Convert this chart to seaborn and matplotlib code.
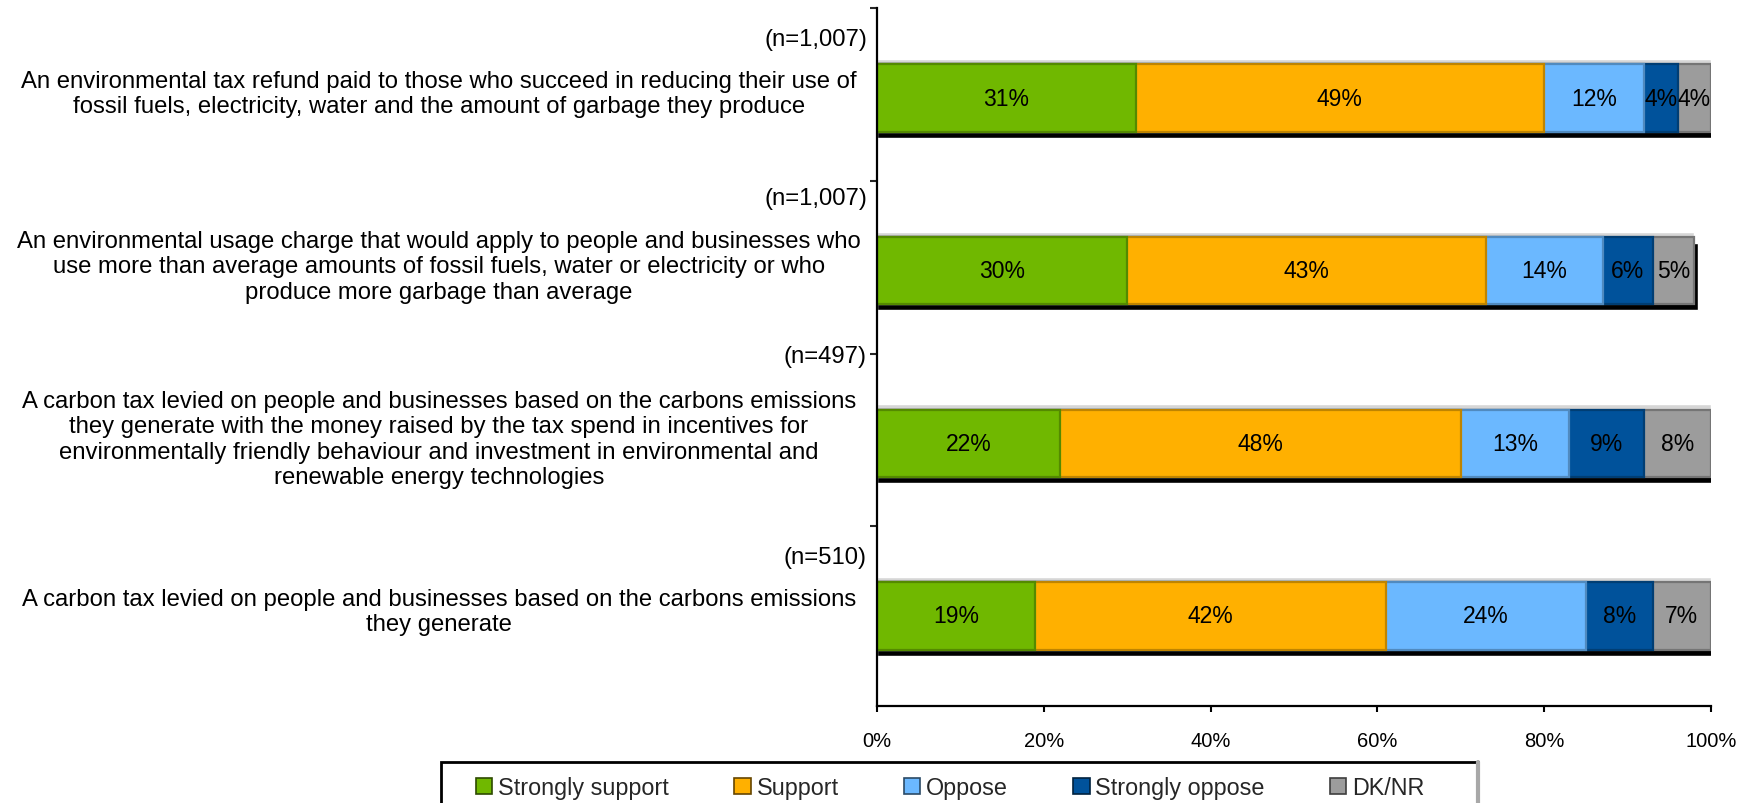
import numpy as np
import matplotlib
matplotlib.use("Agg")
import matplotlib.pyplot as plt
import matplotlib.colors as mcolors
import matplotlib.transforms as mtransforms
from matplotlib.patches import Patch, Rectangle
from matplotlib.lines import Line2D
import seaborn as sns

# --- data ---
questions = [
    "An environmental tax refund paid to those who succeed in reducing their use of\n"
    "fossil fuels, electricity, water and the amount of garbage they produce",
    "An environmental usage charge that would apply to people and businesses who\n"
    "use more than average amounts of fossil fuels, water or electricity or who\n"
    "produce more garbage than average",
    "A carbon tax levied on people and businesses based on the carbons emissions\n"
    "they generate with the money raised by the tax spend in incentives for\n"
    "environmentally friendly behaviour and investment in environmental and\n"
    "renewable energy technologies",
    "A carbon tax levied on people and businesses based on the carbons emissions\n"
    "they generate",
]
sample_sizes = ["(n=1,007)", "(n=1,007)", "(n=497)", "(n=510)"]
responses = ["Strongly support", "Support", "Oppose", "Strongly oppose", "DK/NR"]
strongly_support = [31, 30, 22, 19]
support = [49, 43, 48, 42]
oppose = [12, 14, 13, 24]
strongly_oppose = [4, 6, 9, 8]
dk_nr = [4, 5, 8, 7]
xticks = [0, 20, 40, 60, 80, 100]

colors = ["#70b800", "#ffb000", "#6bb8ff", "#00529b", "#9c9c9c"]

sns.set_theme(style="white")
plt.rcParams["font.family"] = ["Liberation Sans", "DejaVu Sans"]

values = np.array([strongly_support, support, oppose, strongly_oppose, dk_nr]).T
cum = np.cumsum(values, axis=1)
totals = cum[:, -1]
keys = [f"Q{i}" for i in range(len(questions))]
ypos = np.arange(len(questions))
bar_h = 0.39


def darker(c, f=0.7):
    r, g, b = mcolors.to_rgb(c)
    return (r * f, g * f, b * f)


fig = plt.figure(figsize=(17.55, 8.04), dpi=100)
ax = fig.add_axes([0.4997, 0.1206, 0.4752, 0.8682])

# stacked bars: draw cumulative layers, biggest first
for k in reversed(range(len(responses))):
    sns.barplot(x=cum[:, k], y=keys, orient="h", color=colors[k], saturation=1,
                width=bar_h, edgecolor=darker(colors[k], 0.75), linewidth=1.6,
                ax=ax, zorder=2)

# excel-ish shadow behind bars
ax.barh(ypos - 0.03, totals, height=bar_h, color="#d6d6d6", zorder=0.5)
ax.barh(ypos + 0.035, totals + 0.5, height=bar_h, color="black", zorder=0.6)

# segment labels
for i in range(len(questions)):
    for k in range(len(responses)):
        v = values[i, k]
        ax.text(cum[i, k] - v / 2, ypos[i], f"{v}%", ha="center", va="center",
                fontsize=16.5, color="black", zorder=3)

ax.set_xlim(0, 100)
ax.set_ylim(3.522, -0.522)
ax.set_xticks(xticks)
ax.set_xticklabels([f"{t}%" for t in xticks], fontsize=14.5)
ax.set_yticks([-0.522, 0.48, 1.48, 2.48])
ax.set_yticklabels([])
ax.set_xlabel("")
ax.set_ylabel("")
ax.tick_params(axis="x", direction="out", length=4, width=1.5, pad=14,
               bottom=True, colors="black")
ax.tick_params(axis="y", direction="out", length=5, width=1.5, left=True)
for side in ["top", "right"]:
    ax.spines[side].set_visible(False)
for side in ["left", "bottom"]:
    ax.spines[side].set_color("black")
    ax.spines[side].set_linewidth(1.6)

# question labels on the left
trans = mtransforms.blended_transform_factory(fig.transFigure, ax.transData)
for i, (q, n) in enumerate(zip(questions, sample_sizes)):
    nlines = q.count("\n") + 1
    ax.text(0.250, ypos[i] - 0.025, q, transform=trans, ha="center", va="center",
            fontsize=17.2, linespacing=1.2, color="black")
    off_px = 31 + 14 * nlines
    ax.annotate(n, xy=(0.494, ypos[i]), xycoords=trans,
                xytext=(0, off_px * 72 / 100), textcoords="offset points",
                ha="right", va="center", fontsize=17.2, color="black")

# legend (frame drawn separately so the padding matches the original)
handles = [Patch(facecolor=c, edgecolor=darker(c, 0.4), linewidth=1.2) for c in colors]
fig.legend(handles, responses, loc="upper left",
           bbox_to_anchor=(476 / 1755, 1 - 777 / 804), ncol=5, frameon=False,
           fontsize=16.8, handlelength=0.7, handleheight=0.7,
           handletextpad=0.25, columnspacing=2.8, borderpad=0,
           borderaxespad=0)
fx0, fx1, fy1 = 441 / 1755, 1478 / 1755, 1 - 763 / 804
fig.patches.append(Rectangle((fx0, -0.05), fx1 - fx0, fy1 + 0.05,
                             transform=fig.transFigure, fill=False,
                             edgecolor="black", linewidth=2.0))
fig.lines.append(Line2D([fx1, fx1], [-0.05, fy1], transform=fig.transFigure,
                        color="#a8a8a8", linewidth=3.0))

fig.savefig("out.png", dpi=100)
